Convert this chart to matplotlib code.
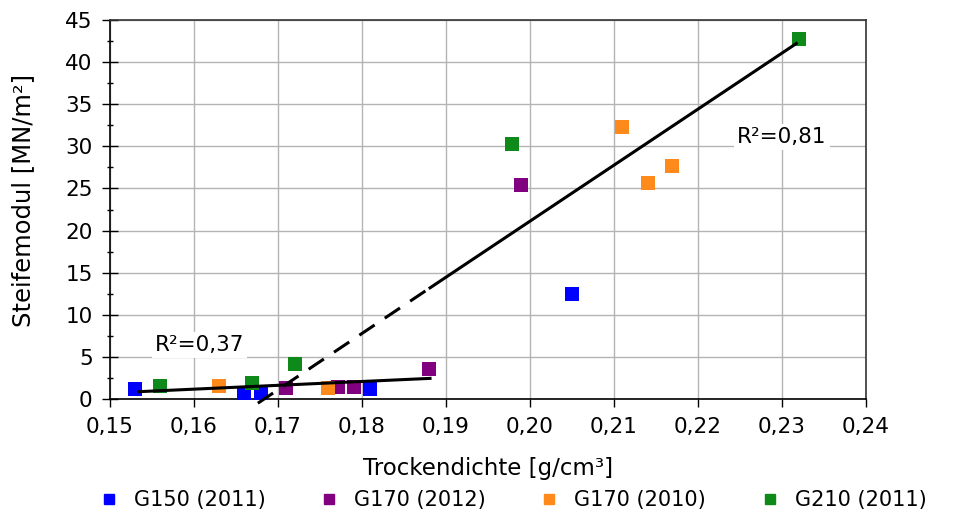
import matplotlib
matplotlib.use('Agg')
import matplotlib.pyplot as plt
from matplotlib.lines import Line2D

plt.rcParams['font.family'] = ['DejaVu Sans']

# data
g150_2011_x = [0.153, 0.166, 0.168, 0.181, 0.205]
g150_2011_y = [1.15, 0.7, 0.7, 1.2, 12.5]
g170_2012_x = [0.171, 0.1771, 0.179, 0.188, 0.1989]
g170_2012_y = [1.27, 1.39, 1.46, 3.56, 25.4]
g170_2010_x = [0.163, 0.176, 0.211, 0.214, 0.2169]
g170_2010_y = [1.58, 1.34, 32.3, 25.7, 27.7]
g210_2011_x = [0.156, 0.1669, 0.172, 0.1979, 0.232]
g210_2011_y = [1.54, 1.86, 4.16, 30.3, 42.7]

series = [
    ('G150 (2011)', g150_2011_x, g150_2011_y, '#0000FF'),
    ('G170 (2012)', g170_2012_x, g170_2012_y, '#800080'),
    ('G170 (2010)', g170_2010_x, g170_2010_y, '#FF8A1C'),
    ('G210 (2011)', g210_2011_x, g210_2011_y, '#0E8A1A'),
]

# trend lines (end points)
low_fit_x = [0.1534, 0.1881]
low_fit_y = [0.87, 2.45]
high_dash_x = [0.1676, 0.1881]
high_dash_y = [-0.5, 13.2]
high_solid_x = [0.1881, 0.2317]
high_solid_y = [13.2, 42.2]

xticks = [0.15, 0.16, 0.17, 0.18, 0.19, 0.20, 0.21, 0.22, 0.23, 0.24]
xticklabels = ['0,15', '0,16', '0,17', '0,18', '0,19', '0,20', '0,21', '0,22', '0,23', '0,24']
yticks = [0, 5, 10, 15, 20, 25, 30, 35, 40, 45]

fig = plt.figure(figsize=(9.61, 5.22), dpi=100)
ax = fig.add_axes([0.1145, 0.2356, 0.7866, 0.7261])

ax.set_xlim(0.15, 0.24)
ax.set_ylim(0, 45)
ax.set_xticks(xticks)
ax.set_xticklabels(xticklabels)
ax.set_yticks(yticks)
ax.set_yticks([2.5 + 5 * i for i in range(9)], minor=True)
ax.grid(True, color='#b4b4b4', linewidth=1.0, zorder=0)
ax.set_axisbelow(True)

ax.tick_params(axis='x', direction='out', length=6, width=1, labelsize=15.5, pad=7)
ax.tick_params(axis='y', which='major', direction='inout', length=11, width=1, labelsize=15.5, pad=7)
ax.tick_params(axis='y', which='minor', direction='inout', length=5, width=1)
ax.tick_params(axis='x', which='minor', bottom=False)

for side in ['left', 'bottom']:
    ax.spines[side].set_color('black')
    ax.spines[side].set_linewidth(1.2)
for side in ['top', 'right']:
    ax.spines[side].set_color('#333333')
    ax.spines[side].set_linewidth(1.2)

for label, xs, ys, col in series:
    ax.scatter(xs, ys, marker='s', s=95, color=col, zorder=3, linewidths=0)

ax.plot(low_fit_x, low_fit_y, color='black', lw=2.2, zorder=4)
ax.plot(high_dash_x, high_dash_y, color='black', lw=2.2, dashes=(6, 4), zorder=4, clip_on=False)
ax.plot(high_solid_x, high_solid_y, color='black', lw=2.2, zorder=4)

box = dict(facecolor='white', edgecolor='none', pad=2)
ax.text(0.1607, 6.4, 'R²=0,37', fontsize=15.5, ha='center', va='center', bbox=box, zorder=5)
ax.text(0.2300, 31.1, 'R²=0,81', fontsize=15.5, ha='center', va='center', bbox=box, zorder=5)

ax.set_xlabel('Trockendichte [g/cm³]', fontsize=16.5)
ax.set_ylabel('Steifemodul [MN/m²]', fontsize=17.5)
ax.xaxis.set_label_coords(0.5, -0.153)
ax.yaxis.set_label_coords(-0.099, 0.525)

handles = [Line2D([], [], marker='s', linestyle='none', markersize=7.5, color=col, label=label)
           for label, xs, ys, col in series]
fig.legend(handles=handles, loc='center', bbox_to_anchor=(0.536, 0.042), ncol=4, frameon=False,
           fontsize=15, handlelength=0.5, handletextpad=0.95, columnspacing=2.8)

fig.savefig('out.png', dpi=100)
